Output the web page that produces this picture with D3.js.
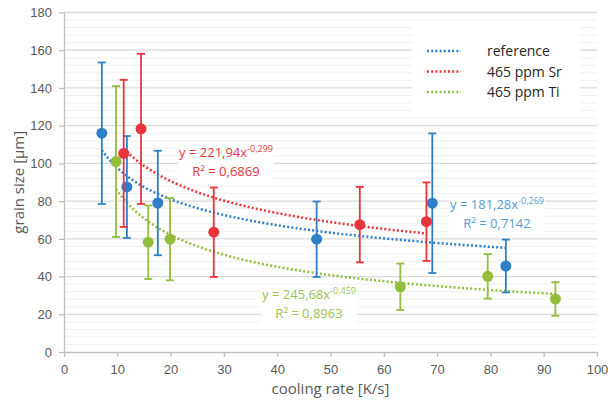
<!DOCTYPE html>
<html>
<head>
<meta charset="utf-8">
<script src="https://cdn.jsdelivr.net/npm/d3@7"></script>
<style>
  body { margin: 0; background: #fff; }
  svg { font-family: "Open Sans", "Noto Sans", sans-serif; }
</style>
</head>
<body>
<div id="chart"></div>
<script>
// DATA
const seriesNames = ['reference', '465 ppm Sr', '465 ppm Ti'];
const seriesColors = ['#2e7fc5', '#e8343b', '#93bd3d'];
const labelColors = ['#5a9bd5', '#e8343b', '#9bc253'];

const refX = [7.1, 11.8, 17.6, 47.4, 69.1, 82.9];
const refY = [116, 87.5, 79, 59.8, 78.9, 45.6];
const refErr = [37.5, 27, 27.7, 20, 37, 14];

const srX = [11.2, 14.45, 28.1, 55.5, 68.0];
const srY = [105.3, 118.3, 63.5, 67.5, 69.1];
const srErr = [39, 39.8, 23.7, 20, 20.8];

const tiX = [9.76, 15.8, 19.9, 63.1, 79.5, 92.2];
const tiY = [101, 58.2, 59.8, 34.6, 40.1, 28.1];
const tiErr = [40, 19.5, 21.8, 12.3, 11.8, 8.9];

// power trendlines y = a * x^b
const fitA = [181.28, 221.94, 245.68];
const fitB = [-0.269, -0.299, -0.459];
const fitR2 = ['0,7142', '0,6869', '0,8963'];

const xTicks = [0, 10, 20, 30, 40, 50, 60, 70, 80, 90, 100];
const yTicks = [0, 20, 40, 60, 80, 100, 120, 140, 160, 180];

const series = [
  { x: refX, y: refY, e: refErr },
  { x: srX, y: srY, e: srErr },
  { x: tiX, y: tiY, e: tiErr }
];

const width = 608, height = 407;
const MARGIN = { top: 12.5, right: 11, bottom: 55, left: 64 };

const svg = d3.select('#chart').append('svg')
  .attr('width', width)
  .attr('height', height);

const xScale = d3.scaleLinear().domain([0, 100]).range([MARGIN.left, width - MARGIN.right]);
const yScale = d3.scaleLinear().domain([0, 180]).range([height - MARGIN.bottom, MARGIN.top]);

// minor gridlines
svg.append('g')
  .selectAll('line')
  .data(d3.range(0, 181, 4).filter(v => v % 20 !== 0))
  .join('line')
  .attr('x1', xScale(0)).attr('x2', xScale(100))
  .attr('y1', d => yScale(d)).attr('y2', d => yScale(d))
  .attr('stroke', '#f0f0f0').attr('stroke-width', 1);

// major gridlines
svg.append('g')
  .selectAll('line')
  .data(yTicks.slice(1))
  .join('line')
  .attr('x1', xScale(0)).attr('x2', xScale(100))
  .attr('y1', d => yScale(d)).attr('y2', d => yScale(d))
  .attr('stroke', '#d9d9d9').attr('stroke-width', 1.3);

// X AXIS
const xAxis = svg.append('g')
  .attr('transform', `translate(0, ${yScale(0)})`)
  .call(d3.axisBottom(xScale).tickValues(xTicks).tickSize(5).tickSizeOuter(0).tickPadding(8));

// Y AXIS
const yAxis = svg.append('g')
  .attr('transform', `translate(${xScale(0)}, 0)`)
  .call(d3.axisLeft(yScale).tickValues(yTicks).tickSize(5).tickSizeOuter(0).tickPadding(7));

[xAxis, yAxis].forEach(ax => {
  ax.select('.domain').attr('stroke', '#bfbfbf').attr('stroke-width', 1.3);
  ax.selectAll('.tick line').attr('stroke', '#bfbfbf').attr('stroke-width', 1.3);
  ax.selectAll('.tick text').attr('fill', '#595959').style('font-size', '13px');
});

// axis titles
svg.append('text')
  .attr('x', (xScale(0) + xScale(100)) / 2)
  .attr('y', 394)
  .attr('text-anchor', 'middle')
  .attr('fill', '#595959')
  .style('font-size', '15px')
  .text('cooling rate [K/s]');

svg.append('text')
  .attr('transform', `translate(24, ${(yScale(0) + yScale(180)) / 2}) rotate(-90)`)
  .attr('text-anchor', 'middle')
  .attr('fill', '#595959')
  .style('font-size', '15px')
  .text('grain size [µm]');

// trendlines
const line = d3.line().x(d => xScale(d[0])).y(d => yScale(d[1]));
series.forEach((s, i) => {
  const x0 = d3.min(s.x), x1 = d3.max(s.x);
  const pts = d3.range(0, 101).map(k => {
    const xv = x0 + (x1 - x0) * k / 100;
    return [xv, fitA[i] * Math.pow(xv, fitB[i])];
  });
  svg.append('path')
    .datum(pts)
    .attr('fill', 'none')
    .attr('stroke', seriesColors[i])
    .attr('stroke-width', 2.5)
    .attr('stroke-dasharray', '2,2.2')
    .attr('d', line);
});

// error bars and points
series.forEach((s, i) => {
  const g = svg.append('g');
  const rows = s.x.map((xv, k) => ({ x: xv, y: s.y[k], e: s.e[k] }));
  g.selectAll('.bar')
    .data(rows)
    .join('line')
    .attr('x1', d => xScale(d.x)).attr('x2', d => xScale(d.x))
    .attr('y1', d => yScale(d.y - d.e)).attr('y2', d => yScale(d.y + d.e))
    .attr('stroke', seriesColors[i]).attr('stroke-width', 1.8);
  ['top', 'bot'].forEach(side => {
    g.selectAll('.cap-' + side)
      .data(rows)
      .join('line')
      .attr('x1', d => xScale(d.x) - 4).attr('x2', d => xScale(d.x) + 4)
      .attr('y1', d => yScale(side === 'top' ? d.y + d.e : d.y - d.e))
      .attr('y2', d => yScale(side === 'top' ? d.y + d.e : d.y - d.e))
      .attr('stroke', seriesColors[i]).attr('stroke-width', 1.8);
  });
  g.selectAll('circle')
    .data(rows)
    .join('circle')
    .attr('cx', d => xScale(d.x)).attr('cy', d => yScale(d.y))
    .attr('r', 5.5)
    .attr('fill', seriesColors[i]);
});

// equation labels
const eqPos = [[497, 209], [226, 157], [309, 299]];
eqPos.forEach((p, i) => {
  const g = svg.append('g');
  g.append('rect')
    .attr('x', p[0] - 48).attr('y', p[1] - 14)
    .attr('width', 96).attr('height', 40)
    .attr('fill', '#fff');
  const t1 = g.append('text')
    .attr('x', p[0]).attr('y', p[1])
    .attr('text-anchor', 'middle')
    .attr('fill', labelColors[i])
    .style('font-size', '13px');
  t1.append('tspan').text(`y = ${String(fitA[i]).replace('.', ',')}x`);
  t1.append('tspan')
    .attr('dy', -5)
    .style('font-size', '9px')
    .text(String(fitB[i]).replace('.', ','));
  g.append('text')
    .attr('x', p[0]).attr('y', p[1] + 19)
    .attr('text-anchor', 'middle')
    .attr('fill', labelColors[i])
    .style('font-size', '13px')
    .text(`R² = ${fitR2[i]}`);
});

// legend
const legend = svg.append('g');
legend.append('rect')
  .attr('x', 412).attr('y', 22)
  .attr('width', 168).attr('height', 95)
  .attr('fill', '#fff');
seriesNames.forEach((name, i) => {
  const yy = 51 + i * 20.5;
  legend.append('line')
    .attr('x1', 427).attr('x2', 461)
    .attr('y1', yy).attr('y2', yy)
    .attr('stroke', seriesColors[i])
    .attr('stroke-width', 2.5)
    .attr('stroke-dasharray', '2,2.2');
  legend.append('text')
    .attr('x', 487).attr('y', yy + 5)
    .attr('fill', '#262626')
    .style('font-size', '14px')
    .text(name);
});
</script>
</body>
</html>
